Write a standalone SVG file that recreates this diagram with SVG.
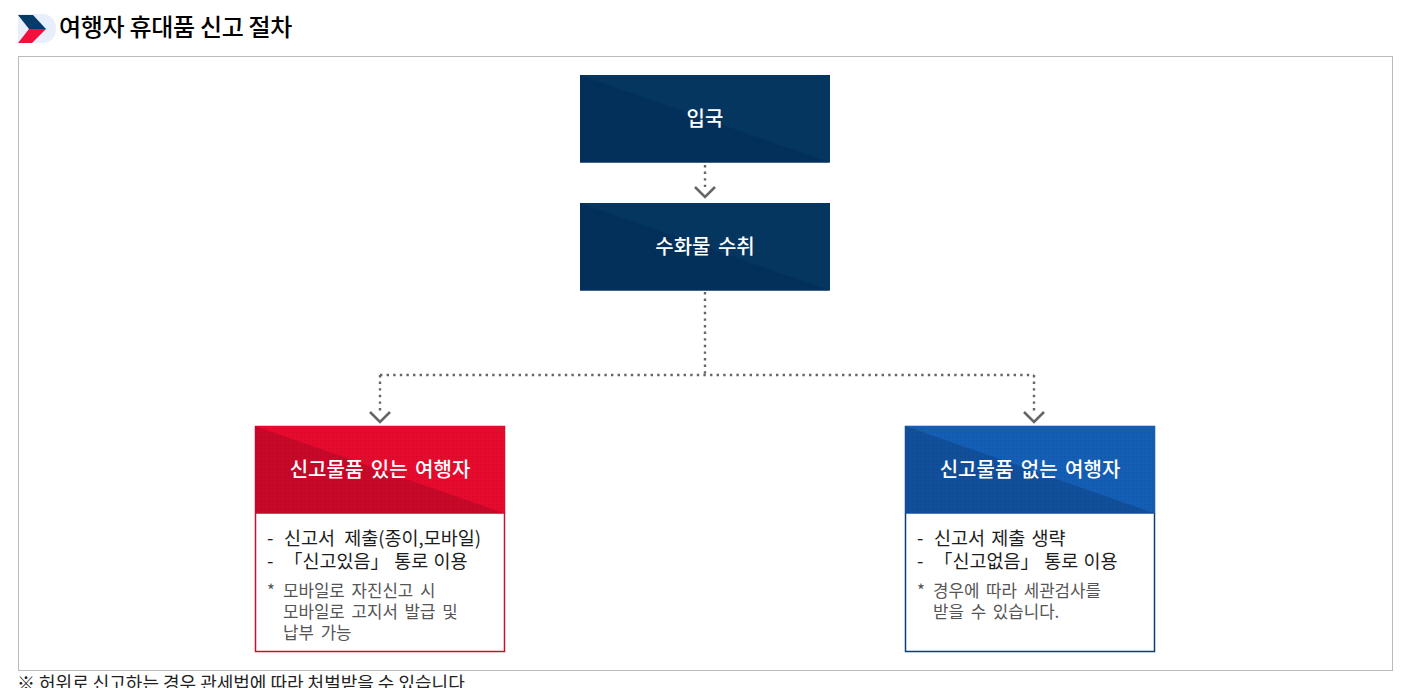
<svg xmlns="http://www.w3.org/2000/svg" width="1412" height="688" viewBox="0 0 1412 688">
<style>
text{font-family:"Noto Sans CJK KR","Noto Sans",sans-serif}
.h{font-size:20px;font-weight:500;fill:#fff;text-anchor:middle;word-spacing:3px}
.b{font-size:18.500px;fill:#1c1c1c;word-spacing:3px}
.s{font-size:16.800px;fill:#555;word-spacing:3px}
.dot{fill:none;stroke:#666;stroke-width:2.400;stroke-dasharray:2.400 4.200}
.ar{fill:none;stroke:#666;stroke-width:2.600}
</style>
<defs>
<pattern id="dots" width="4" height="4" patternUnits="userSpaceOnUse"><rect width="1.500" height="1.500" fill="#000" fill-opacity=".07"/></pattern>
</defs>
<rect width="1412" height="688" fill="#fff"/>
<g id="title">
<rect x="30" y="14" width="26" height="29" rx="14" fill="#e8effa"/>
<rect x="18" y="14" width="24" height="29" fill="#e8effa"/>
<polygon points="18,15 33,15 46,29 29,29" fill="#063a68"/>
<polygon points="18,43 32,43 46,29 29,29" fill="#f4103c"/>
<text x="59" y="36" font-size="24" font-weight="500" fill="#000" style="letter-spacing:-.3px">여행자 휴대품 신고 절차</text>
</g>
<rect id="frame" x="18.500" y="56.500" width="1374" height="614" fill="#fff" stroke="#bbb"/>
<g id="connectors">
<path class="dot" d="M705 165V187"/><path class="ar" d="M695 187l10 10 10-10"/>
<path class="dot" d="M705 292V375M380 375H1034M380 375V412M1034 375V412"/>
<path class="ar" d="M370 412l10 10 10-10"/><path class="ar" d="M1024 412l10 10 10-10"/>
</g>
<g id="node-entry">
<rect x="580" y="75" width="250" height="87.500" fill="#05365f"/>
<polygon points="580,75 830,162.500 580,162.500" fill="#03305a"/>
<text class="h" x="705" y="126">입국</text>
</g>
<g id="node-baggage">
<rect x="580" y="203" width="250" height="87.500" fill="#05365f"/>
<polygon points="580,203 830,290.500 580,290.500" fill="#03305a"/>
<text class="h" x="705" y="254">수화물 수취</text>
</g>
<g id="node-declare">
<rect x="255.500" y="426.500" width="249" height="225" fill="#fff" stroke="#c8102e" stroke-width="1.500"/>
<rect x="255" y="426" width="250" height="87.500" fill="#e60a2e"/>
<polygon points="255,426 505,513.500 255,513.500" fill="#c80828"/>
<rect x="255" y="426" width="250" height="87.500" fill="url(#dots)"/>
<text class="h" x="380" y="477">신고물품 있는 여행자</text>
<text class="b" x="267" y="545">-</text><text class="b" x="284" y="545" style="word-spacing:5px">신고서 제출(종이,모바일)</text>
<text class="b" x="267" y="568">-</text><text class="b" x="284" y="568" style="word-spacing:1px">「신고있음」 통로 이용</text>
<text class="s" x="267" y="597">*</text><text class="s" x="283" y="597">모바일로 자진신고 시</text>
<text class="s" x="283" y="618">모바일로 고지서 발급 및</text>
<text class="s" x="283" y="639">납부 가능</text>
</g>
<g id="node-none">
<rect x="905.500" y="426.500" width="249" height="225" fill="#fff" stroke="#0a3f70" stroke-width="1.500"/>
<rect x="905" y="426" width="250" height="87.500" fill="#145eb5"/>
<polygon points="905,426 1155,513.500 905,513.500" fill="#114f9b"/>
<rect x="905" y="426" width="250" height="87.500" fill="url(#dots)"/>
<text class="h" x="1030" y="477">신고물품 없는 여행자</text>
<text class="b" x="917" y="545">-</text><text class="b" x="934" y="545" style="word-spacing:2px">신고서 제출 생략</text>
<text class="b" x="917" y="568">-</text><text class="b" x="934" y="568" style="word-spacing:1px">「신고없음」 통로 이용</text>
<text class="s" x="917" y="597">*</text><text class="s" x="933" y="597">경우에 따라 세관검사를</text>
<text class="s" x="933" y="618">받을 수 있습니다.</text>
</g>
<text id="footnote" x="17" y="690" font-size="18" fill="#222">※ 허위로 신고하는 경우 관세법에 따라 처벌받을 수 있습니다</text>
</svg>
